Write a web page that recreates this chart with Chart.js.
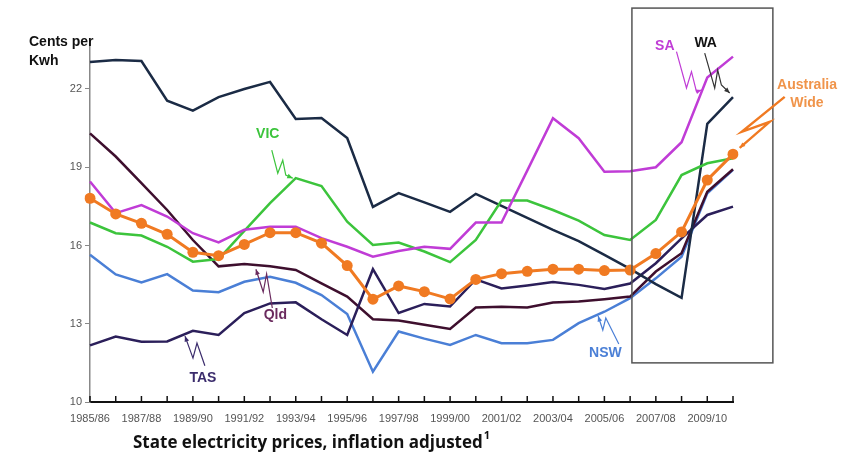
<!DOCTYPE html>
<html>
<head>
<meta charset="utf-8">
<script src="https://cdn.jsdelivr.net/npm/chart.js@4.4.1/dist/chart.umd.min.js"></script>
<style>
html,body{margin:0;padding:0;background:#fff;}
canvas{display:block;}
</style>
</head>
<body>
<canvas id="c" width="842" height="463"></canvas>
<script>
// ---- Data ----
const years = ["1985/86","1986/87","1987/88","1988/89","1989/90","1990/91","1991/92","1992/93","1993/94","1994/95","1995/96","1996/97","1997/98","1998/99","1999/00","2000/01","2001/02","2002/03","2003/04","2004/05","2005/06","2006/07","2007/08","2008/09","2009/10","2010/11"];
const yTicks = [10, 13, 16, 19, 22];
const australiaWide = [17.81,17.21,16.85,16.43,15.74,15.61,16.04,16.49,16.49,16.09,15.23,13.94,14.45,14.23,13.95,14.70,14.92,15.01,15.09,15.09,15.04,15.06,15.69,16.52,18.51,19.50];
const sa  = [18.45,17.24,17.55,17.11,16.47,16.12,16.60,16.72,16.72,16.28,15.95,15.57,15.79,15.95,15.87,16.88,16.88,18.87,20.88,20.11,18.83,18.85,19.00,19.96,22.44,23.24];
const vic = [16.88,16.47,16.38,15.95,15.38,15.48,16.56,17.62,18.58,18.28,16.91,16.02,16.11,15.77,15.36,16.21,17.72,17.72,17.36,16.95,16.40,16.21,16.98,18.70,19.15,19.34];
const wa  = [23.03,23.11,23.07,21.55,21.17,21.69,22.00,22.27,20.85,20.89,20.12,17.48,18.01,17.65,17.29,17.98,17.52,17.06,16.60,16.17,15.64,15.10,14.52,13.99,20.66,21.69];
const tas = [12.17,12.51,12.31,12.32,12.73,12.57,13.41,13.78,13.82,13.17,12.57,15.09,13.41,13.76,13.66,14.70,14.35,14.47,14.60,14.49,14.33,14.54,15.32,16.27,17.17,17.49];
const qld = [20.30,19.41,18.39,17.36,16.21,15.20,15.29,15.20,15.06,14.55,14.04,13.17,13.12,12.96,12.80,13.62,13.65,13.62,13.81,13.85,13.94,14.04,15.00,15.70,18.06,18.92];
const nsw = [15.64,14.89,14.58,14.90,14.27,14.21,14.61,14.80,14.57,14.10,13.37,11.16,12.70,12.43,12.19,12.57,12.25,12.25,12.38,13.02,13.46,13.98,14.74,15.57,18.00,18.90];

const C = {
  aw:'#f07a22', awText:'#f0944a', sa:'#c03cd6', vic:'#3cc43c', wa:'#1b2b45',
  tas:'#2b1f5a', qld:'#3e0f2e', nsw:'#4a7fd6', qldText:'#6a2a5e', tasText:'#3b2c6c'
};

// annotations: anchor series/index, label offset, squiggle offsets (pixels relative to anchor point)
const notes = [
  {text:['VIC'], series:vic, idx:8, color:C.vic, lab:[-28,-44], path:[[-24,-28],[-18,-5],[-13,-18],[-10,-3],[-3,0]]},
  {text:['Qld'], series:qld, idx:6, color:C.qldText, lab:[31,51], path:[[28,44],[22.3,10],[18.9,28],[11.6,5.3]]},
  {text:['TAS'], series:tas, idx:4, color:C.tasText, lab:[10,47], path:[[12,35],[4.1,12.3],[0.1,27.3],[-7.9,5.3]]},
  {text:['NSW'], series:nsw, idx:20, color:C.nsw, lab:[1,41], path:[[14.4,32.3],[1.4,6.3],[-1.6,18.3],[-6.3,4.3]]},
  {text:['SA'], series:sa, idx:24, color:C.sa, lab:[-42.5,-31.5], path:[[-30.8,-25.8],[-20.8,10.5],[-15.8,-5.8],[-10.8,14.2],[-5.8,12.5]]},
  {text:['WA'], series:wa, idx:25, color:'#111', line:'#333', lab:[-27.3,-54], path:[[-28.3,-44],[-18.3,-9],[-15.3,-27],[-11.6,-12],[-3.3,-4]]},
  {text:['Australia','Wide'], series:australiaWide, idx:25, color:C.awText, line:C.aw, lw:2.4, lab:[74,-69], path:[[51.7,-57.3],[8.7,-22.3],[36.7,-32.3],[6.7,-6.3]]}
];

const extras = {
  id:'extras',
  afterDraw(chart){
    const ctx = chart.ctx, xs = chart.scales.x, ys = chart.scales.y, ca = chart.chartArea;
    ctx.save();
    // upward x tick marks
    ctx.strokeStyle = '#111'; ctx.lineWidth = 1.5;
    for (let i = 0; i < years.length; i++) {
      const x = xs.getPixelForValue(i);
      ctx.beginPath(); ctx.moveTo(x, ca.bottom); ctx.lineTo(x, ca.bottom - 6); ctx.stroke();
    }
    // highlight box
    ctx.strokeStyle = '#555'; ctx.lineWidth = 1.5;
    const bx0 = xs.getPixelForValue(21.07), bx1 = xs.getPixelForValue(26.55);
    const by0 = ys.getPixelForValue(25.1), by1 = ys.getPixelForValue(11.5);
    ctx.strokeRect(bx0, by0, bx1 - bx0, by1 - by0);
    // y axis title
    ctx.fillStyle = '#111';
    ctx.font = 'bold 14px "Liberation Sans", Arial, sans-serif';
    ctx.textAlign = 'left'; ctx.textBaseline = 'middle';
    ctx.fillText('Cents per', 29, 42);
    ctx.fillText('Kwh', 29, 61);
    // bottom title
    ctx.font = 'bold 17px "Open Sans", sans-serif';
    ctx.textBaseline = 'alphabetic';
    const t = 'State electricity prices, inflation adjusted';
    ctx.fillText(t, 133, 448);
    const w = ctx.measureText(t).width;
    ctx.font = 'bold 11px "Open Sans", sans-serif';
    ctx.fillText('1', 133 + w + 1, 439);
    // annotations
    for (const n of notes) {
      const ax = xs.getPixelForValue(n.idx), ay = ys.getPixelForValue(n.series[n.idx]);
      const pts = n.path.map(p => [ax + p[0], ay + p[1]]);
      ctx.strokeStyle = n.line || n.color; ctx.lineWidth = n.lw || 1.2;
      ctx.beginPath(); ctx.moveTo(pts[0][0], pts[0][1]);
      for (let k = 1; k < pts.length; k++) ctx.lineTo(pts[k][0], pts[k][1]);
      ctx.stroke();
      const e = pts[pts.length - 1], s = pts[pts.length - 2];
      const ang = Math.atan2(e[1] - s[1], e[0] - s[0]);
      ctx.fillStyle = n.line || n.color;
      ctx.beginPath();
      ctx.moveTo(e[0], e[1]);
      ctx.lineTo(e[0] - 6 * Math.cos(ang - 0.4), e[1] - 6 * Math.sin(ang - 0.4));
      ctx.lineTo(e[0] - 6 * Math.cos(ang + 0.4), e[1] - 6 * Math.sin(ang + 0.4));
      ctx.closePath(); ctx.fill();
      ctx.fillStyle = n.color;
      ctx.font = 'bold 14px "Liberation Sans", Arial, sans-serif';
      ctx.textAlign = 'center'; ctx.textBaseline = 'middle';
      n.text.forEach((line, k) => ctx.fillText(line, ax + n.lab[0], ay + n.lab[1] + k * 18));
    }
    ctx.restore();
  }
};

const ds = (label, data, color, extra) => Object.assign({
  label, data, borderColor: color, backgroundColor: color, borderWidth: 2.5,
  pointRadius: 0, tension: 0, fill: false
}, extra || {});

new Chart(document.getElementById('c'), {
  type: 'line',
  data: {
    labels: years,
    datasets: [
      ds('Australia Wide', australiaWide, C.aw, {borderWidth: 3, pointRadius: 5.5, pointBorderWidth: 0, pointBackgroundColor: C.aw}),
      ds('SA', sa, C.sa),
      ds('VIC', vic, C.vic),
      ds('WA', wa, C.wa),
      ds('TAS', tas, C.tas),
      ds('Qld', qld, C.qld),
      ds('NSW', nsw, C.nsw)
    ]
  },
  options: {
    responsive: false,
    devicePixelRatio: 1,
    animation: false,
    layout: {padding: {left: 0, right: 109, top: 42, bottom: 0}},
    plugins: {legend: {display: false}, tooltip: {enabled: false}, title: {display: false}},
    scales: {
      x: {
        type: 'category', offset: false,
        grid: {display: false, drawTicks: false},
        border: {display: true, color: '#111', width: 2},
        ticks: {
          autoSkip: false, maxRotation: 0, minRotation: 0, padding: 10,
          color: '#555', font: {size: 11, family: '"Liberation Sans", Arial, sans-serif'},
          callback: (v, i) => (i % 2 === 0 ? years[i] : '')
        },
        afterFit: s => { s.height = 61; }
      },
      y: {
        min: 10, max: 23.8,
        afterBuildTicks: s => { s.ticks = yTicks.map(v => ({value: v})); },
        grid: {drawOnChartArea: false, drawTicks: true, tickLength: 5, color: '#888'},
        border: {display: true, color: '#888', width: 1.5},
        ticks: {padding: 3, color: '#555', font: {size: 11, family: '"Liberation Sans", Arial, sans-serif'}},
        afterFit: s => { s.width = 90; }
      }
    }
  },
  plugins: [extras]
});
</script>
</body>
</html>
